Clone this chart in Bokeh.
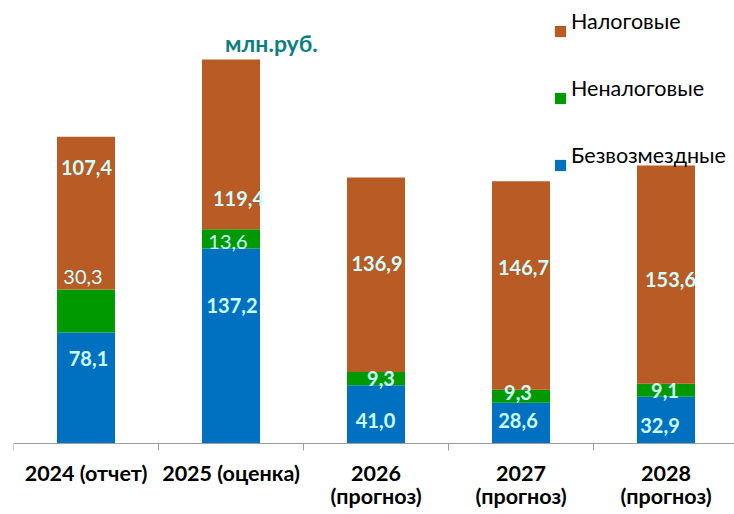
from bokeh.plotting import figure
from bokeh.models import ColumnDataSource, Range1d, FixedTicker, Legend, LegendItem, Label
from bokeh.core.properties import value
from bokeh.embed import file_html
from bokeh.resources import INLINE

# ---- data ----
categories = ["2024 (отчет)", "2025 (оценка)", "2026\n(прогноз)", "2027\n(прогноз)", "2028\n(прогноз)"]
bezvozmezdnye = [78.1, 137.2, 41.0, 28.6, 32.9]
nenalogovye = [30.3, 13.6, 9.3, 9.3, 9.1]
nalogovye = [107.4, 119.4, 136.9, 146.7, 153.6]
series_names = ["Безвозмездные", "Неналоговые", "Налоговые"]
unit_label = "млн.руб."

# ---- styles ----
colors = ["#0070C0", "#009A00", "#B95B24"]
label_color = "#CCFFFF"
FONT = "Lato"
# per-label pixel nudges (Excel labels were moved by hand), bottom->top series
dx = [[2.5, 1, -0.5, -3, -6], [-3, -3, 5, -3, -1], [0.5, 7.5, 1, 2.5, 4.5]]
dy = [[-29.5, -40.5, 6, -2.7, 5.4], [-34, 3.3, 0, -3.8, 0], [-46, 54, -11.6, -18, 5]]
weights = [["bold"] * 5, ["normal", "normal", "bold", "bold", "bold"], ["bold"] * 5]

idx = list(range(len(categories)))
series = [bezvozmezdnye, nenalogovye, nalogovye]
keys = ["b", "n", "t"]
src = ColumnDataSource(dict(x=idx, b=bezvozmezdnye, n=nenalogovye, t=nalogovye))

W, H = 734, 514
px_per_unit = 1.421
base_px = 443      # axis line from top
left_px = 13
cat_px = 145

p = figure(width=W, height=H, output_backend="svg", toolbar_location=None,
           x_range=Range1d(-0.5, -0.5 + (W - left_px) / cat_px),
           y_range=Range1d(-(H - base_px) / px_per_unit, base_px / px_per_unit),
           y_axis_location=None, min_border_left=left_px, min_border_right=0, min_border_top=0,
           min_border_bottom=0, outline_line_color=None)
p.xgrid.visible = False
p.ygrid.visible = False

rs = p.vbar_stack(keys, x="x", width=0.4, color=colors, line_color=None, source=src)
# invisible stand-in used only so the legend texts can be drawn without a swatch
blank = p.vbar(x=[], top=[], width=0.4, fill_alpha=0, line_alpha=0)

# value labels
lx, ly, lt, lox, loy, lw = [], [], [], [], [], []
for s, vals in enumerate(series):
    for i, v in enumerate(vals):
        base = sum(series[k][i] for k in range(s))
        lx.append(idx[i])
        ly.append(base + v / 2)
        lt.append(f"{v:.1f}".replace(".", ","))
        lox.append(dx[s][i])
        loy.append(dy[s][i])
        lw.append(weights[s][i])
lsrc = ColumnDataSource(dict(x=lx, y=ly, text=lt, xo=lox, yo=loy, w=lw))
p.text(x="x", y="y", text="text", x_offset="xo", y_offset="yo", text_font_style="w",
       text_font=value(FONT), text_font_size="20px", text_color=label_color,
       text_align="center", text_baseline="middle", source=lsrc)

# x axis, pinned at zero
ax = p.xaxis[0]
ax.fixed_location = 0
ax.ticker = FixedTicker(ticks=idx, minor_ticks=[i - 0.5 for i in range(len(idx) + 1)])
ax.major_label_overrides = {i: c for i, c in zip(idx, categories)}
ax.major_tick_out = 0
ax.major_tick_in = 0
ax.minor_tick_out = 7
ax.minor_tick_in = 0
ax.minor_tick_line_color = "#9E9E9E"
ax.axis_line_color = "#9E9E9E"
ax.major_label_text_font = FONT
ax.major_label_text_font_size = "21.5px"
ax.major_label_text_font_style = "bold"
ax.major_label_text_color = "#000000"
ax.major_label_text_line_height = 0.92
ax.major_label_standoff = 9

# unit label
p.add_layout(Label(x=1.279, y=281.5, text=unit_label, text_font=FONT, text_font_size="23px",
                   text_font_style="bold", text_color="#0E7F7F", text_align="center",
                   text_baseline="middle"))

# legend: swatches and texts as two aligned legends (the texts sit above their swatches)
order = (2, 1, 0)
swatches = Legend(items=[LegendItem(label="", renderers=[rs[k]]) for k in order],
                  location=(540, 342), orientation="vertical", padding=0, margin=0,
                  spacing=53, glyph_width=14, glyph_height=14, label_height=14, label_width=0,
                  label_standoff=0, label_text_font_size="1px",
                  background_fill_alpha=0, border_line_alpha=0)
texts = Legend(items=[LegendItem(label=series_names[k], renderers=[blank]) for k in order],
               location=(557, 346), orientation="vertical", padding=0, margin=0,
               spacing=41, glyph_width=1, glyph_height=1, label_height=26, label_standoff=0,
               label_text_font=FONT, label_text_font_size="21.5px", label_text_color="#000000",
               background_fill_alpha=0, border_line_alpha=0)
p.add_layout(swatches)
p.add_layout(texts)

open("out.html", "w").write(file_html(p, INLINE))
